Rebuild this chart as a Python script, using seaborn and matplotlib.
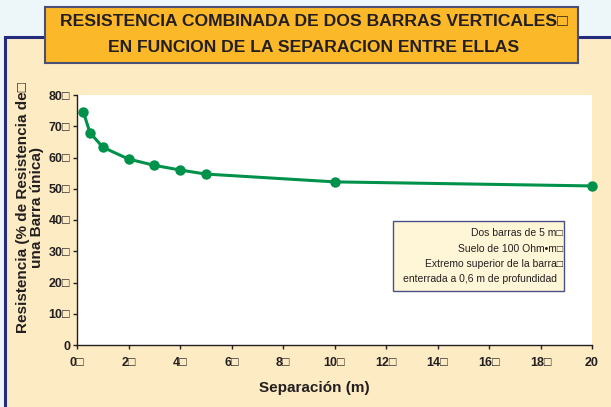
import matplotlib
matplotlib.use("Agg")
import matplotlib.pyplot as plt
from matplotlib.patches import Rectangle
import pandas as pd
import seaborn as sns

# data
separacion = [0.25, 0.5, 1, 2, 3, 4, 5, 10, 20]
resistencia = [74.5, 68.0, 63.3, 59.5, 57.5, 56.0, 54.7, 52.2, 50.9]

x_ticks = [0, 2, 4, 6, 8, 10, 12, 14, 16, 18, 20]
x_ticklabels = ["0□", "2□", "4□", "6□", "8□", "10□", "12□", "14□", "16□", "18□", "20"]
y_ticks = [0, 10, 20, 30, 40, 50, 60, 70, 80]
y_ticklabels = ["0", "10□", "20□", "30□", "40□", "50□", "60□", "70□", "80□"]

title_lines = ["RESISTENCIA COMBINADA DE DOS BARRAS VERTICALES□",
               "EN FUNCION DE LA SEPARACION ENTRE ELLAS"]
note_lines = ["Dos barras de 5 m□",
              "Suelo de 100 Ohm•m□",
              "Extremo superior de la barra□",
              "enterrada a 0,6 m de profundidad  "]

W, H = 611, 407
NAVY = "#232d7c"
GREEN = "#00924a"
INK = "#231f20"

sns.set_style("ticks")
plt.rcParams["font.family"] = ["Liberation Sans", "DejaVu Sans"]

df = pd.DataFrame({"sep": separacion, "res": resistencia})

fig = plt.figure(figsize=(W / 100, H / 100), dpi=100, facecolor="#edf6f9")


def fx(px):
    return px / W


def fy(py):
    return 1 - py / H


# cream panel with navy border on left/top
fig.patches.append(Rectangle((fx(5), fy(H + 5)), fx(W + 10), fy(37) - fy(H + 5),
                             transform=fig.transFigure, facecolor="#fdebc3",
                             edgecolor=NAVY, linewidth=2.2, zorder=-2))
# orange title box
fig.patches.append(Rectangle((fx(45), fy(63)), fx(578 - 45), fy(7) - fy(63),
                             transform=fig.transFigure, facecolor="#fbb829",
                             edgecolor="#4a4f78", linewidth=1.5, zorder=1))
fig.text(fx(314), fy(22), title_lines[0], ha="center", va="center",
         fontsize=12.6, fontweight="bold", color=INK, zorder=2)
fig.text(fx(314), fy(47), title_lines[1], ha="center", va="center",
         fontsize=12.6, fontweight="bold", color=INK, zorder=2)

ax = fig.add_axes([fx(77), fy(345), fx(592 - 77), fy(95) - fy(345)])
ax.set_zorder(0)
ax.set_facecolor("white")

sns.lineplot(data=df, x="sep", y="res", ax=ax, color=GREEN, linewidth=2.2,
             marker="o", markersize=7.5, markeredgewidth=0, clip_on=False)

ax.set_xlim(0, 20)
ax.set_ylim(0, 80)
ax.set_xticks(x_ticks)
ax.set_xticklabels(x_ticklabels)
ax.set_yticks(y_ticks)
ax.set_yticklabels(y_ticklabels)
ax.tick_params(axis="both", length=3, width=1, color=INK, labelsize=9,
               labelcolor=INK)
ax.tick_params(axis="x", pad=6)
ax.tick_params(axis="y", pad=2)
for lab in ax.get_xticklabels() + ax.get_yticklabels():
    lab.set_fontweight("bold")
for side in ["top", "right"]:
    ax.spines[side].set_visible(False)
for side in ["left", "bottom"]:
    ax.spines[side].set_color(INK)
    ax.spines[side].set_linewidth(1)
ax.set_xlabel("")
ax.set_ylabel("")

fig.text(fx(314), fy(388), "Separación (m)", ha="center", va="center",
         fontsize=11, fontweight="bold", color=INK)
fig.text(fx(30), fy(208), "Resistencia (% de Resistencia de□\nuna Barra única)",
         ha="center", va="center", rotation=90, fontsize=11,
         fontweight="bold", color=INK, linespacing=1.0)

# note box
fig.patches.append(Rectangle((fx(393), fy(291)), fx(564 - 393), fy(221) - fy(291),
                             transform=fig.transFigure, facecolor="#fff6d8",
                             edgecolor="#4a4f8a", linewidth=1, zorder=3))
for i, line in enumerate(note_lines):
    fig.text(fx(563), fy(233 + 15.5 * i), line, ha="right", va="center",
             fontsize=7.5, color=INK, zorder=4)

fig.savefig("out.png", dpi=100, facecolor=fig.get_facecolor())
